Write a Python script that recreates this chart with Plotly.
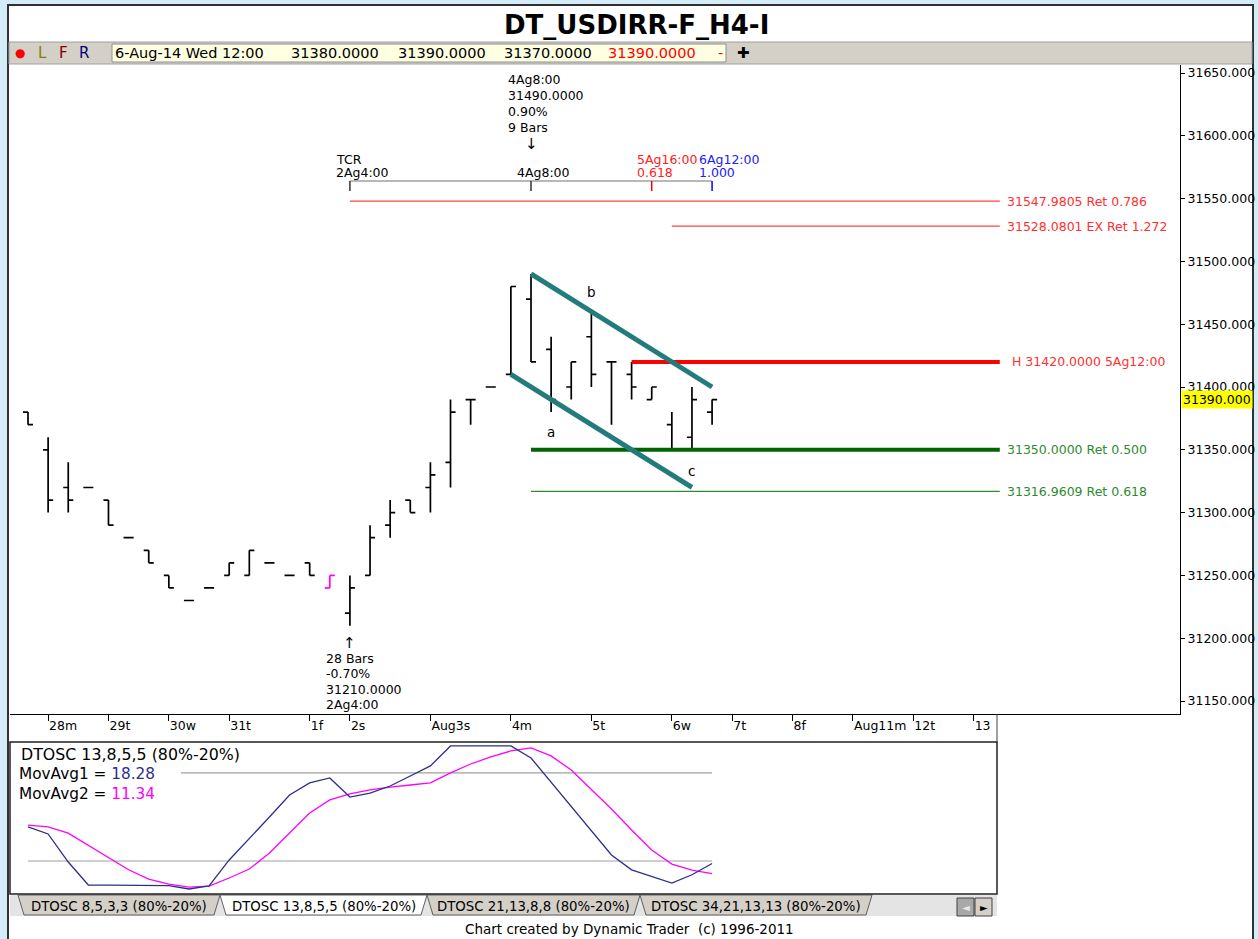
import plotly.graph_objects as go

W, H = 1258, 939

def px(x):
    return x / W

def py(y):
    return 1 - y / H

# ---------------- data ----------------
bars = list(range(35))
bar_open = [31380, 31350, 31320, 31320, 31310, 31280, 31270, 31250, 31230, 31240,
            31250, 31250, 31260, 31250, 31260, 31240, 31220, 31250, 31290, 31310,
            31320, 31340, 31390, 31400, 31410, 31470, 31430, 31400, 31440, 31420,
            31410, 31390, 31370, 31360, 31380]
bar_high = [31380, 31360, 31340, 31320, 31310, 31280, 31270, 31250, 31230, 31240,
            31260, 31270, 31260, 31250, 31260, 31250, 31250, 31290, 31310, 31310,
            31340, 31390, 31390, 31400, 31480, 31490, 31440, 31420, 31460, 31420,
            31420, 31400, 31380, 31400, 31390]
bar_low = [31370, 31300, 31300, 31320, 31290, 31280, 31260, 31240, 31230, 31240,
           31250, 31250, 31260, 31250, 31250, 31240, 31210, 31250, 31280, 31300,
           31300, 31320, 31370, 31400, 31410, 31420, 31380, 31390, 31400, 31370,
           31390, 31390, 31350, 31350, 31370]
bar_close = [31370, 31310, 31310, 31320, 31290, 31280, 31260, 31240, 31230, 31240,
             31260, 31270, 31260, 31250, 31250, 31250, 31240, 31280, 31300, 31300,
             31330, 31380, 31390, 31400, 31480, 31420, 31390, 31420, 31410, 31420,
             31400, 31400, 31350, 31390, 31390]
highlight_bar = 15  # drawn in magenta

osc_ma1 = [43.2, 38.4, 19.3, 3.6, 3.6, 3.6, 3.6, 3.2, 0.9, 3.0,
           20.7, 35.0, 50.0, 65.0, 73.2, 76.6, 63.6, 66.3, 71.1, 77.9,
           84.8, 98.4, 98.4, 98.4, 98.4, 90.2, 73.8, 56.9, 40.5, 24.1,
           14.0, 9.4, 5.0, 10.6, 18.28]
osc_ma2 = [44.5, 43.2, 39.0, 30.5, 22.0, 14.0, 7.7, 4.3, 2.2, 2.9,
           8.4, 14.5, 25.4, 39.0, 52.7, 61.6, 65.7, 68.4, 70.4, 71.8,
           73.2, 80.0, 86.1, 90.9, 95.0, 97.1, 91.6, 82.0, 69.0, 55.4,
           41.1, 27.5, 17.9, 13.8, 11.34]
osc_levels = [80, 20]

x_tick_vals = [1, 4, 7, 10, 14, 16, 20, 24, 28, 32, 35, 38, 41, 44, 47]
x_tick_text = ['28m', '29t', '30w', '31t', '1f', '2s', 'Aug3s', '4m', '5t', '6w',
               '7t', '8f', 'Aug11m', '12t', '13']
y_tick_vals = [31150, 31200, 31250, 31300, 31350, 31400, 31450, 31500, 31550, 31600, 31650]
y_tick_text = ['%.3f' % v for v in y_tick_vals]
last_price = 31390

channel_lower_x = [24, 33]
channel_lower_y = [31410, 31320]
channel_upper_x = [25, 34]
channel_upper_y = [31490, 31400]

level_prices = [31547.9805, 31528.0801, 31420.0, 31350.0, 31316.9609]
level_start = [16, 32, 30, 25, 25]
level_end = 48.3
level_labels = ['31547.9805 Ret 0.786', '31528.0801 EX Ret 1.272',
                'H 31420.0000 5Ag12:00', '31350.0000 Ret 0.500', '31316.9609 Ret 0.618']
level_colors = ['#FF4040', '#FF4040', '#FF0000', '#006400', '#2E8B2E']
level_text_colors = ['#FF3030', '#FF3030', '#FF3030', '#2E8B2E', '#2E8B2E']
level_widths = [1.2, 1.2, 4, 4, 1.2]

tcr_price = 31564
tcr_tick_price = 31556
tcr_bars = [16, 25, 31, 34]
tcr_colors = ['#333333', '#333333', '#FF0000', '#0000FF']

# ---------------- layout calibration ----------------
BAR0_PX, BAR_PX = 28.0, 20.12
def B(x):
    return (x - BAR0_PX) / BAR_PX

P_TOP, P_BOT = 31656.37, 31139.65

fig = go.Figure()

main = [i for i in bars if i != highlight_bar]
fig.add_trace(go.Ohlc(
    x=main, open=[bar_open[i] for i in main], high=[bar_high[i] for i in main],
    low=[bar_low[i] for i in main], close=[bar_close[i] for i in main],
    increasing=dict(line=dict(color='black', width=1.7)),
    decreasing=dict(line=dict(color='black', width=1.7)),
    tickwidth=0.25, hoverinfo='skip', showlegend=False))

hb = highlight_bar
fig.add_trace(go.Scatter(
    x=[hb, hb, None, hb - 0.25, hb, None, hb, hb + 0.25],
    y=[bar_low[hb], bar_high[hb], None, bar_open[hb], bar_open[hb], None, bar_close[hb], bar_close[hb]],
    mode='lines', line=dict(color='#FF00FF', width=1.7), hoverinfo='skip', showlegend=False))

# TCR ruler
fig.add_trace(go.Scatter(x=[tcr_bars[0], tcr_bars[-1]], y=[tcr_price, tcr_price], mode='lines',
                         line=dict(color='#A0A0A0', width=1.5), hoverinfo='skip', showlegend=False))
for b, c in zip(tcr_bars, tcr_colors):
    fig.add_trace(go.Scatter(x=[b, b], y=[tcr_price, tcr_tick_price], mode='lines',
                             line=dict(color=c, width=1.5), hoverinfo='skip', showlegend=False))

# level lines
for p, s, c, w in zip(level_prices, level_start, level_colors, level_widths):
    fig.add_trace(go.Scatter(x=[s, level_end], y=[p, p], mode='lines',
                             line=dict(color=c, width=w), hoverinfo='skip', showlegend=False))

# channel
for xs, ys in [(channel_lower_x, channel_lower_y), (channel_upper_x, channel_upper_y)]:
    fig.add_trace(go.Scatter(x=xs, y=ys, mode='lines', line=dict(color='#237C7C', width=5),
                             hoverinfo='skip', showlegend=False))

# oscillator
for lv in osc_levels:
    x0 = 7.6 if lv == 80 else 0
    fig.add_trace(go.Scatter(x=[x0, bars[-1]], y=[lv, lv], mode='lines', xaxis='x2', yaxis='y2',
                             line=dict(color='#A0A0A0', width=1.2), hoverinfo='skip', showlegend=False))
fig.add_trace(go.Scatter(x=bars, y=osc_ma2, mode='lines', xaxis='x2', yaxis='y2',
                         line=dict(color='#FF00FF', width=1.3), hoverinfo='skip', showlegend=False))
fig.add_trace(go.Scatter(x=bars, y=osc_ma1, mode='lines', xaxis='x2', yaxis='y2',
                         line=dict(color='#2E2E8A', width=1.3), hoverinfo='skip', showlegend=False))

# ---------------- shapes ----------------
shapes = []
def rect(x0, y0, x1, y1, fill, line=None, lw=0, layer='below'):
    shapes.append(dict(type='rect', xref='paper', yref='paper', x0=px(x0), x1=px(x1),
                       y0=py(y1), y1=py(y0), fillcolor=fill,
                       line=dict(color=line if line else fill, width=lw), layer=layer))

def path(pts, fill, line, lw=1, layer='below'):
    d = 'M ' + ' L '.join('%f,%f' % (px(a), py(b)) for a, b in pts) + ' Z'
    shapes.append(dict(type='path', xref='paper', yref='paper', path=d, fillcolor=fill,
                       line=dict(color=line, width=lw), layer=layer))

rect(8, 5, 1253, 945, 'white', '#303030', 2)
rect(9, 42, 1252, 64, '#D4D0C8', '#A0A0A0', 1)
rect(112, 44, 726, 62, '#FFFFE1', '#909090', 1)
# oscillator box
shapes.append(dict(type='rect', xref='paper', yref='paper', x0=px(10), x1=px(997), y0=py(894),
                   y1=py(742), fillcolor='rgba(0,0,0,0)', line=dict(color='#202020', width=1.5),
                   layer='above'))
# x label strip right border
shapes.append(dict(type='line', xref='paper', yref='paper', x0=px(997), x1=px(997), y0=py(742),
                   y1=py(714), line=dict(color='#404040', width=1), layer='above'))
# tab strip
rect(10, 895, 997, 916, '#E4E4E4', '#E4E4E4', 0)
tabs = [(18, 220, 'DTOSC 8,5,3,3 (80%-20%)', '#D4D0C8'),
        (220, 427, 'DTOSC 13,8,5,5 (80%-20%)', '#FFFFFF'),
        (427, 640, 'DTOSC 21,13,8,8 (80%-20%)', '#D4D0C8'),
        (640, 872, 'DTOSC 34,21,13,13 (80%-20%)', '#D4D0C8')]
for a, b, t, c in tabs:
    path([(a, 895), (a + 6, 915), (b - 6, 915), (b, 895)], c, '#606060', 1)
rect(957, 898, 974, 916, '#A8A8A8', '#404040', 1)
rect(975, 898, 992, 916, '#D4D0C8', '#404040', 1)

# ---------------- annotations ----------------
ann = []
def ptext(x, y, text, size=12.5, color='black', xanchor='left', bold=False, **kw):
    if bold:
        text = '<b>%s</b>' % text
    ann.append(dict(xref='paper', yref='paper', x=px(x), y=py(y), text=text, showarrow=False,
                    xanchor=xanchor, yanchor='middle', font=dict(size=size, color=color), **kw))

def dtext(x, y, text, size=12.5, color='black', xanchor='left', yanchor='middle', xshift=0, yshift=0, **kw):
    ann.append(dict(xref='x', yref='y', x=x, y=y, text=text, showarrow=False, xanchor=xanchor,
                    yanchor=yanchor, xshift=xshift, yshift=yshift, font=dict(size=size, color=color), **kw))

ptext(636, 25, 'DT_USDIRR-F_H4-I', size=26, xanchor='center', bold=True)
ptext(20, 53, '●', size=12, color='#FF0000', xanchor='center')
ptext(42, 53, 'L', size=15, color='#808000', xanchor='center')
ptext(63, 53, 'F', size=15, color='#800000', xanchor='center')
ptext(84, 53, 'R', size=15, color='#000080', xanchor='center')
hdr = [(113, '6-Aug-14 Wed 12:00', 'black'),
       (289, '%.4f' % bar_open[-1], 'black'), (396, '%.4f' % bar_high[-1], 'black'),
       (502, '%.4f' % bar_low[-1], 'black'), (606, '%.4f' % bar_close[-1], '#FF0000'),
       (716, '-', '#FF0000')]
for x, t, c in hdr:
    ptext(x, 53, t, size=14.5, color=c)
ptext(743, 53, '✚', size=15, xanchor='center')

ptext(630, 929, 'Chart created by Dynamic Trader \u00a0(c) 1996-2011', size=13.5, xanchor='center')
for a, b, t, c in tabs:
    ptext((a + b) / 2, 906, t, size=13.3, xanchor='center')
ptext(965.5, 907, '◄', size=10, color='#E8E8E8', xanchor='center')
ptext(983.5, 907, '►', size=10, color='black', xanchor='center')

ptext(19, 754, 'DTOSC 13,8,5,5 (80%-20%)', size=15.8)
ptext(17, 774, "MovAvg1 = <span style='color:#2E2E8A'>%.2f</span>" % osc_ma1[-1], size=15.3)
ptext(17, 794, "MovAvg2 = <span style='color:#FF00FF'>%.2f</span>" % osc_ma2[-1], size=15.3)

# level labels
for p, t, c in zip(level_prices, level_labels, level_text_colors):
    xs = 5 if t.startswith('H') else 0
    dtext(level_end, p, t, color=c, xshift=5 + xs)

# current price tag
ann.append(dict(xref='paper', yref='y', x=px(1181), y=last_price, text='%.3f' % last_price,
                showarrow=False, xanchor='left', yanchor='middle', bgcolor='#FFFF00',
                font=dict(size=12.5, color='black'), borderpad=1))

# TCR labels
dtext(16, tcr_price, 'TCR', xshift=-16, yshift=22)
dtext(16, tcr_price, '2Ag4:00', xshift=-16, yshift=9)
dtext(25, tcr_price, '4Ag8:00', xshift=-16, yshift=9)
dtext(31, tcr_price, '5Ag16:00', color='#FF2020', xshift=-17, yshift=22)
dtext(31, tcr_price, '0.618', color='#FF2020', xshift=-17, yshift=9)
dtext(34, tcr_price, '6Ag12:00', color='#2020FF', xshift=-15, yshift=22)
dtext(34, tcr_price, '1.000', color='#2020FF', xshift=-15, yshift=9)

# swing high annotation
hi = 25
dtext(hi, bar_high[hi], '↓', size=15, xanchor='center', yanchor='middle', yshift=130)
for k, t in enumerate(['4Ag8:00', '%.4f' % bar_high[hi], '0.90%', '9 Bars']):
    dtext(hi, bar_high[hi], t, xshift=-25, yshift=194 - 16 * k)

# swing low annotation
lo = 16
dtext(lo, bar_low[lo], '↑', size=15, xanchor='center', yanchor='middle', yshift=-17)
for k, t in enumerate(['28 Bars', '-0.70%', '%.4f' % bar_low[lo], '2Ag4:00']):
    dtext(lo, bar_low[lo], t, xshift=-26, yshift=-33 - 15.3 * k)

# wave letters
dtext(26, bar_low[26], 'a', size=13.5, xanchor='center', yshift=-20)
dtext(28, bar_high[28], 'b', size=13.5, xanchor='center', yshift=20)
dtext(33, bar_low[33], 'c', size=13.5, xanchor='center', yshift=-21)

fig.update_layout(
    width=W, height=H, margin=dict(l=0, r=0, t=0, b=0),
    paper_bgcolor='#D3ECF8', plot_bgcolor='white',
    font=dict(family='DejaVu Sans', size=12.5, color='black'),
    showlegend=False, hovermode=False,
    xaxis=dict(domain=[px(10), px(1180)], range=[B(10), B(1180)], showgrid=False, zeroline=False,
               showline=True, linecolor='black', linewidth=1, ticks='outside', ticklen=6,
               tickcolor='black', tickvals=x_tick_vals, ticktext=x_tick_text,
               ticklabelposition='outside right', tickfont=dict(size=12.5), anchor='y',
               rangeslider=dict(visible=False), fixedrange=True),
    yaxis=dict(domain=[py(714), py(65)], range=[P_BOT, P_TOP], side='right', anchor='x',
               showgrid=False, zeroline=False, showline=True, linecolor='black', linewidth=1,
               ticks='outside', ticklen=4, tickcolor='black', tickvals=y_tick_vals,
               ticktext=y_tick_text, tickfont=dict(size=12.5), fixedrange=True),
    xaxis2=dict(domain=[px(10), px(997)], range=[B(10), B(997)], visible=False, anchor='y2',
                fixedrange=True),
    yaxis2=dict(domain=[py(894), py(742)], range=[-2.5, 101.1], visible=False, anchor='x2',
                fixedrange=True),
    shapes=shapes, annotations=ann,
)

fig.write_html('out.html', config={'displayModeBar': False},
               post_script="document.body.style.margin='0px';document.body.style.overflow='hidden';")
